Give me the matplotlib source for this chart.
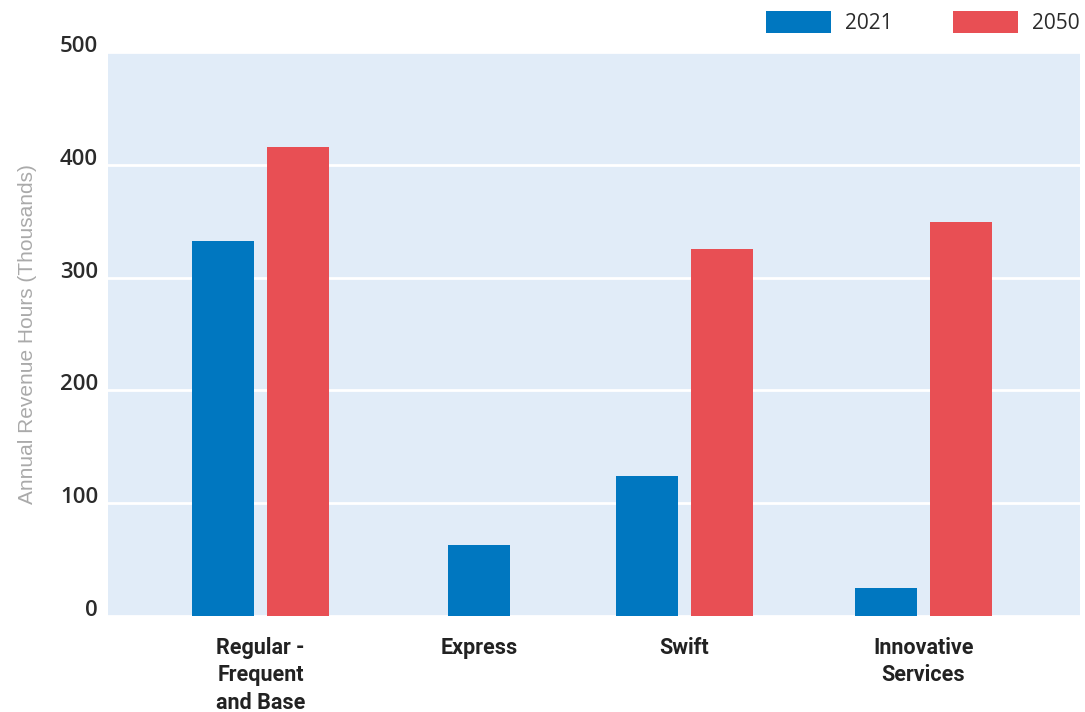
import numpy as np
import matplotlib
matplotlib.use('Agg')
import matplotlib.pyplot as plt

# data
categories = ['Regular -\nFrequent\nand Base', 'Express', 'Swift', 'Innovative\nServices']
hours_2021 = [332, 63, 124, 25]
hours_2050 = [416, np.nan, 325, 349]
yticks = [0, 100, 200, 300, 400, 500]

# layout (x in axis units, roughly pixels from the left spine)
centers = [152.5, 371, 576.5, 815.5]
offset = 37.5
bar_w = 62

blue = '#0077c0'
red = '#e84f54'

fig = plt.figure(figsize=(10.85, 7.12), dpi=100)
ax = fig.add_axes([0.0995, 0.1348, 0.8959, 0.7922])
ax.set_facecolor('#e1ecf8')

x21 = []
for c, v2 in zip(centers, hours_2050):
    x21.append(c if np.isnan(v2) else c - offset)
x50 = [c + offset for c in centers]

ax.bar(x21, hours_2021, width=bar_w, color=blue, label='2021', zorder=3)
mask = ~np.isnan(hours_2050)
ax.bar(np.array(x50)[mask], np.array(hours_2050)[mask], width=bar_w, color=red,
       label='2050', zorder=3)

ax.set_xlim(0, 972)
ax.set_ylim(0, 500)
ax.set_yticks(yticks)
# numbers sit on their gridlines (baseline) in the original
ax.set_yticklabels([str(t) for t in yticks], fontsize=16, color='#2b2b2b',
                   family=['Open Sans', 'DejaVu Sans'], fontweight='semibold',
                   va='baseline')
ax.grid(axis='y', color='white', linewidth=2, zorder=1)
ax.set_xticks(centers)
ax.set_xticklabels(categories, fontsize=15.5, fontweight='bold', color='#222222',
                   family=['Roboto', 'DejaVu Sans'],
                   linespacing=1.32, va='top')
ax.tick_params(axis='both', length=0)
ax.tick_params(axis='x', pad=15)
ax.tick_params(axis='y', pad=7)
for s in ax.spines.values():
    s.set_visible(False)

ax.set_ylabel('Annual Revenue Hours (Thousands)', fontsize=15, color='#aaaaaa',
              family=['Liberation Sans', 'DejaVu Sans'])
ax.yaxis.set_label_coords(-0.073, 0.5)

leg = ax.legend(loc='upper right', bbox_to_anchor=(1.015, 1.098), ncol=2,
                frameon=False, handlelength=3.1, handleheight=1.25,
                handletextpad=0.7, columnspacing=2.9, borderpad=0.2,
                prop={'family': ['Open Sans', 'DejaVu Sans'], 'size': 15})
for t in leg.get_texts():
    t.set_color('#2b2b2b')

fig.savefig('out.png', dpi=100)
